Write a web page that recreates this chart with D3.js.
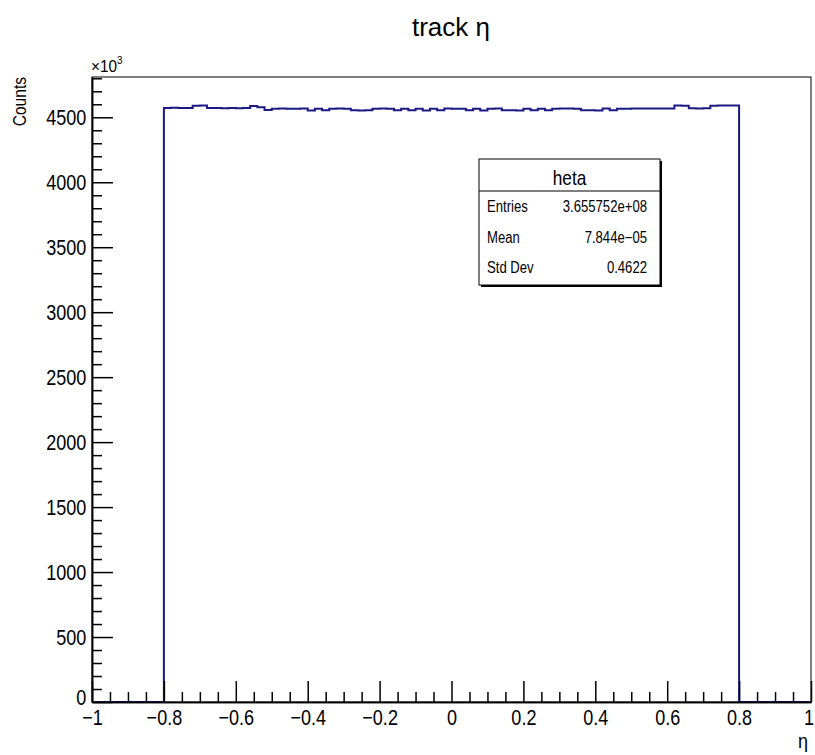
<!DOCTYPE html>
<html>
<head>
<meta charset="utf-8">
<script src="https://cdn.jsdelivr.net/npm/d3@7"></script>
<style>
  body { margin: 0; background: #fff; }
  svg text { font-family: "Liberation Sans", Arial, sans-serif; fill: #000; }
</style>
</head>
<body>
<div class="plot"></div>
<script>
// histogram of track eta, 100 bins from -1 to 1 (counts in units of 10^3)
var etaLow = -1, etaHigh = 1;
var binCounts = [
    0, 0, 0, 0, 0, 0, 0, 0, 0, 0,
    4572, 4573, 4571, 4572, 4589, 4590, 4572, 4571, 4570, 4571,
    4569, 4572, 4586, 4578, 4556, 4566, 4567, 4565, 4566, 4567,
    4553, 4566, 4554, 4565, 4567, 4566, 4555, 4553, 4554, 4566,
    4567, 4565, 4555, 4566, 4554, 4565, 4553, 4566, 4555, 4567,
    4566, 4565, 4554, 4566, 4553, 4566, 4567, 4555, 4554, 4553,
    4566, 4555, 4566, 4554, 4566, 4567, 4568, 4566, 4555, 4554,
    4553, 4567, 4554, 4566, 4565, 4568, 4567, 4568, 4567, 4568,
    4567, 4590, 4589, 4569, 4568, 4570, 4589, 4590, 4591, 4590,
    0, 0, 0, 0, 0, 0, 0, 0, 0, 0
];

var xMajorTicks = [ -1, -0.8, -0.6, -0.4, -0.2, 0, 0.2, 0.4, 0.6, 0.8, 1 ];
var yMajorTicks = [ 0, 500, 1000, 1500, 2000, 2500, 3000, 3500, 4000, 4500 ];
var yMax = 4810;

var statsTitle = 'heta';
var statsLabels = [ 'Entries', 'Mean', 'Std Dev' ];
var statsValues = [ '3.655752e+08', '7.844e\u221205', '0.4622' ];

var width = 815, height = 755;
var frame = { left: 92, right: 811, top: 77, bottom: 702 };
var squeeze = 0.82;   // the ROOT picture uses a narrow face

var svg = d3.select( '.plot' )
    .append( 'svg' )
    .attr( 'width' , width )
    .attr( 'height' , height );

var x = d3.scaleLinear().domain( [ etaLow , etaHigh ] ).range( [ frame.left , frame.right ] );
var y = d3.scaleLinear().domain( [ 0 , yMax ] ).range( [ frame.bottom , frame.top ] );

// text placed with a horizontal squeeze
function label( parent , px , py , str , size , anchor , sx ){
    return parent.append( 'text' )
        .attr( 'transform' , 'translate(' + px + ',' + py + ') scale(' + ( sx || squeeze ) + ',1)' )
        .attr( 'text-anchor' , anchor || 'start' )
        .style( 'font-size' , size + 'px' )
        .text( str );
}

// minor ticks: 4 divisions on x, 5 on y
var xMinorTicks = d3.range( -1 , 1.0001 , 0.05 ).filter( function( d ){
    return Math.abs( d * 5 - Math.round( d * 5 ) ) > 1e-6;
});
var yMinorTicks = d3.range( 0 , yMax , 100 ).filter( function( d ){ return d % 500 !== 0; });

// frame
svg.append( 'rect' )
    .attr( 'x' , frame.left )
    .attr( 'y' , frame.top )
    .attr( 'width' , frame.right - frame.left )
    .attr( 'height' , frame.bottom - frame.top )
    .attr( 'fill' , 'none' )
    .attr( 'stroke' , '#000' )
    .attr( 'stroke-width' , 1 );

// histogram outline as a step path
var binWidth = ( etaHigh - etaLow ) / binCounts.length;
var pts = [ [ x( etaLow ) , y( 0 ) ] ];
binCounts.forEach( function( c , i ){
    var x0 = etaLow + i * binWidth , x1 = x0 + binWidth;
    pts.push( [ x( x0 ) , y( c ) ] );
    pts.push( [ x( x1 ) , y( c ) ] );
});
pts.push( [ x( etaHigh ) , y( 0 ) ] );

svg.append( 'path' )
    .attr( 'd' , d3.line()( pts ) )
    .attr( 'fill' , 'none' )
    .attr( 'stroke' , '#1a1a85' )
    .attr( 'stroke-width' , 2 );

// axes
var xAxis = d3.axisBottom( x )
    .tickValues( xMajorTicks )
    .tickFormat( d3.format( '~g' ) )
    .tickSizeInner( -21 )
    .tickSizeOuter( 0 )
    .tickPadding( 7 );
var xAxisMinor = d3.axisBottom( x )
    .tickValues( xMinorTicks )
    .tickFormat( '' )
    .tickSizeInner( -10 )
    .tickSizeOuter( 0 );

var yAxis = d3.axisLeft( y )
    .tickValues( yMajorTicks )
    .tickFormat( d3.format( 'd' ) )
    .tickSizeInner( -21 )
    .tickSizeOuter( 0 )
    .tickPadding( 7 );
var yAxisMinor = d3.axisLeft( y )
    .tickValues( yMinorTicks )
    .tickFormat( '' )
    .tickSizeInner( -10 )
    .tickSizeOuter( 0 );

function styleAxis( g ){
    g.selectAll( 'path.domain' ).attr( 'stroke' , '#000' ).attr( 'stroke-width' , 1.5 );
    g.selectAll( 'line' ).attr( 'stroke' , '#000' ).attr( 'stroke-width' , 1.5 );
    g.selectAll( 'text' ).attr( 'fill' , '#000' ).style( 'font-size' , '22px' )
        .style( 'font-family' , '"Liberation Sans", Arial, sans-serif' )
        .attr( 'transform' , 'scale(' + squeeze + ',1)' );
}

svg.append( 'g' ).attr( 'transform' , 'translate(0,' + frame.bottom + ')' ).call( xAxisMinor ).call( styleAxis );
var gx = svg.append( 'g' ).attr( 'transform' , 'translate(0,' + frame.bottom + ')' ).call( xAxis ).call( styleAxis );
// keep the last label inside the canvas
gx.selectAll( '.tick text' ).filter( function( d ){ return d === etaHigh; }).attr( 'dx' , -3 );
svg.append( 'g' ).attr( 'transform' , 'translate(' + frame.left + ',0)' ).call( yAxisMinor ).call( styleAxis );
var gy = svg.append( 'g' ).attr( 'transform' , 'translate(' + frame.left + ',0)' ).call( yAxis ).call( styleAxis );
gy.selectAll( '.tick text' ).filter( function( d ){ return d === 0; }).attr( 'dy' , '0.1em' );

// exponent above the y axis
var expo = label( svg , frame.left - 1 , 72 , '' , 17 , 'start' , 0.9 );
expo.append( 'tspan' ).text( '\u00d710' );
expo.append( 'tspan' ).attr( 'dy' , -8 ).style( 'font-size' , '11px' ).text( '3' );

// titles
label( svg , 451 , 36 , 'track \u03b7' , 26 , 'middle' , 1 );

svg.append( 'text' )
    .attr( 'transform' , 'translate(26,' + frame.top + ') rotate(-90) scale(' + squeeze + ',1)' )
    .attr( 'text-anchor' , 'end' )
    .style( 'font-size' , '19px' )
    .text( 'Counts' );

label( svg , frame.right - 3 , 748 , '\u03b7' , 20 , 'end' , 0.9 );

// stats box
var box = { x: 479, y: 159, w: 181, h: 126, head: 32 };
svg.append( 'rect' )
    .attr( 'x' , box.x + 2 ).attr( 'y' , box.y + 2 )
    .attr( 'width' , box.w ).attr( 'height' , box.h )
    .attr( 'fill' , '#000' );
svg.append( 'rect' )
    .attr( 'x' , box.x ).attr( 'y' , box.y )
    .attr( 'width' , box.w ).attr( 'height' , box.h )
    .attr( 'fill' , '#fff' ).attr( 'stroke' , '#000' ).attr( 'stroke-width' , 1 );
svg.append( 'line' )
    .attr( 'x1' , box.x ).attr( 'x2' , box.x + box.w )
    .attr( 'y1' , box.y + box.head ).attr( 'y2' , box.y + box.head )
    .attr( 'stroke' , '#000' ).attr( 'stroke-width' , 1 );
label( svg , box.x + box.w / 2 , box.y + 26 , statsTitle , 21 , 'middle' );

statsLabels.forEach( function( d , i ){
    var rowY = box.y + 53 + i * 30.5;
    label( svg , box.x + 8 , rowY , d , 16 , 'start' );
    label( svg , box.x + box.w - 13 , rowY , statsValues[ i ] , 16 , 'end' );
});
</script>
</body>
</html>
